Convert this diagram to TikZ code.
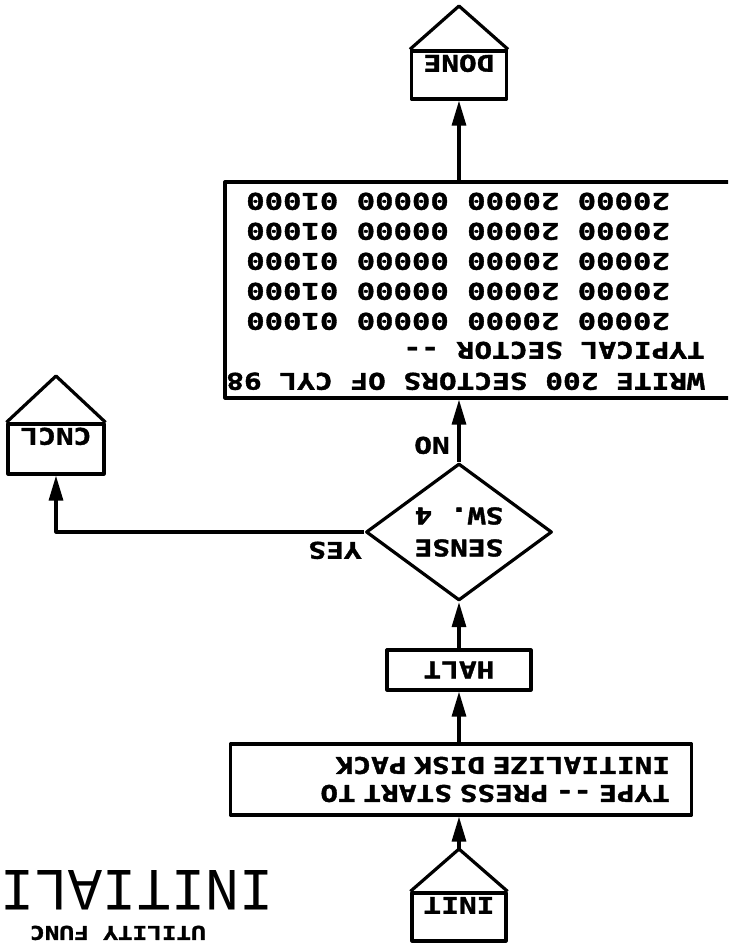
\documentclass[tikz,border=0pt]{standalone}
\usepackage{fontspec}
\usetikzlibrary{arrows.meta, shapes.geometric, calc}
\newfontfamily\plotfont[FakeStretch=1.28, FakeBold=1.6]{DejaVu Sans Mono}
\newfontfamily\rowfont[FakeStretch=1.33, FakeBold=1.6]{DejaVu Sans Mono}
\newfontfamily\titlefont[FakeStretch=0.95]{Liberation Mono}

\tikzset{
  flowline/.style={line width=3.2pt, line join=round},
  flowbox/.style={draw, flowline, inner sep=0pt},
  plottxt/.style={font=\plotfont\bfseries\fontsize{23}{28}\selectfont, inner sep=0pt},
  rowtxt/.style={font=\rowfont\bfseries\fontsize{23}{28}\selectfont, inner sep=0pt},
}
\newcommand{\dd}{\mbox{-}\mbox{-}}

\begin{document}
\begin{tikzpicture}[x=1pt, y=1pt, rotate=180, transform shape,
                    >={Triangle[length=25pt, width=14pt]}]
  \useasboundingbox (0,0) rectangle (728,947);
  \clip (0,0) rectangle (728,947);

  % title block
  \node[font=\titlefont\fontsize{60}{60}\selectfont, anchor=base west,
        inner sep=0pt] (title) at (454,870) {INITIALI};
  \node[font=\plotfont\bfseries\fontsize{19}{19}\selectfont, anchor=base west,
        inner sep=0pt] (subtitle) at (522,926) {UTILITY FUNC};

  % start
  \node[flowbox, minimum width=94pt, minimum height=48pt] (init) at (269,917) {};
  \coordinate (initTip) at (269,849);
  \draw[flowline] (init.south west) -- (initTip) -- (init.south east);
  \node[plottxt, anchor=base] (initTxt) at (269,897) {INIT};

  % operator message
  \node[flowbox, plottxt, align=left, text width=418pt, minimum width=461pt,
        minimum height=71pt] (typebox) at (267,779.5)
        {TYPE \dd{} PRESS START TO\\INITIALIZE DISK PACK};

  \node[flowbox, plottxt, minimum width=144pt, minimum height=40pt] (halt) at (269,670) {HALT};

  % switch test
  \node[flowbox, plottxt, shape=diamond, aspect=1.4, align=center,
        font=\plotfont\bfseries\fontsize{23}{32}\selectfont,
        minimum width=186pt, minimum height=137pt] (sense) at (269,532) {SENSE\\SW. 4};
  \node[plottxt, anchor=base] (yesLbl) at (393,542) {YES};
  \node[plottxt, anchor=base] (noLbl) at (296,437) {NO};

  % cancel exit
  \node[flowbox, minimum width=96pt, minimum height=50pt] (cncl) at (672,449) {};
  \coordinate (cnclTip) at (672,376);
  \draw[flowline] (cncl.south west) -- (cnclTip) -- (cncl.south east);
  \node[plottxt, anchor=base] (cnclTxt) at (672,428) {CNCL};
  \coordinate (yesCorner) at (672,532);

  % write
  \node[flowbox, minimum width=534pt, minimum height=216pt] (write) at (236,290) {};
  \node[plottxt, anchor=base west] (wrHead) at (23,373) {WRITE 200 SECTORS OF CYL 98};
  \node[plottxt, anchor=base west] (wrSub) at (23,342) {TYPICAL SECTOR \dd};
  \foreach \b [count=\i] in {313,283,253,223,193}
    \node[rowtxt, anchor=base west] (row\i) at (58,\b) {20000 20000 00000 01000};

  % done
  \node[flowbox, minimum width=95pt, minimum height=48pt] (done) at (269,75) {};
  \coordinate (doneTip) at (269,6);
  \draw[flowline] (done.south west) -- (doneTip) -- (done.south east);
  \node[plottxt, anchor=base] (doneTxt) at (269,55) {DONE};

  % flow
  \draw[flowline, ->] (initTip) -- (initTip |- typebox.north);
  \draw[flowline, ->] (halt.north |- typebox.south) -- (halt.north);
  \draw[flowline, ->] (halt.south) -- (sense.north);
  \draw[flowline, ->] (sense.east) -- (yesCorner) -- (yesCorner |- cncl.north);
  \draw[flowline, ->] (sense.south) -- (sense.south |- write.north);
  \draw[flowline, ->] (done.north |- write.south) -- (done.north);
\end{tikzpicture}
\end{document}
